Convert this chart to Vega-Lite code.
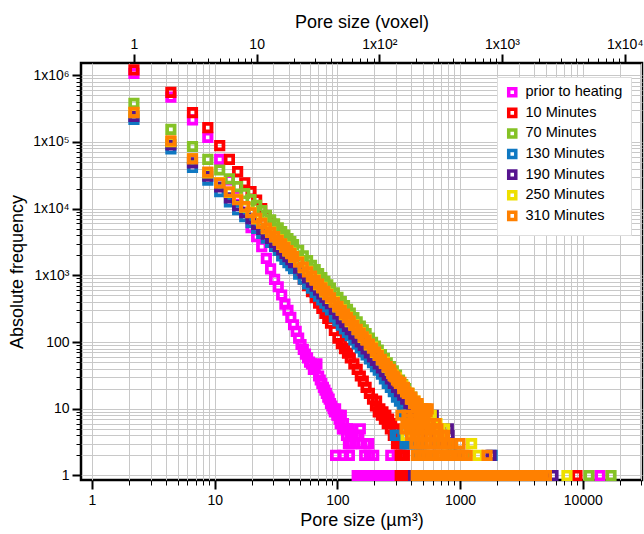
{
"$schema": "https://vega.github.io/schema/vega-lite/v6.json",
"width": 561,
"height": 417,
"autosize": {"type": "none"},
"padding": {"left": 81, "top": 63, "right": 2, "bottom": 54},
"background": "white",
"config": {
  "view": {"stroke": "#000000", "strokeWidth": 2.5},
  "font": "Liberation Sans",
  "axis": {"domain": false, "grid": true, "gridColor": "#c8c8c8", "gridWidth": 1, "tickColor": "#000000", "labelFont": "Liberation Sans", "labelFontSize": 14, "labelColor": "#000000", "titleFont": "Liberation Sans", "titleFontSize": 18, "titleFontWeight": "normal", "titleColor": "#000000", "labelOverlap": false, "labelBound": false, "labelFlush": false}
},
"layer": [
  {
    "data": {"values": [{"v": 1}]},
    "mark": {"type": "rule", "opacity": 0},
    "encoding": {
      "x": {"field": "v", "type": "quantitative",
        "scale": {"type": "log", "domain": [0.8135, 30380], "nice": false},
        "axis": {"orient": "bottom", "title": "Pore size (µm³)",
          "values": [1,2,3,4,5,6,7,8,9,10,20,30,40,50,60,70,80,90,100,200,300,400,500,600,700,800,900,1000,2000,3000,4000,5000,6000,7000,8000,9000,10000,20000,30000],
          "labelExpr": "indexof([1,10,100,1000,10000], datum.value) >= 0 ? datum.label : ''",
          "format": "d",
          "tickSize": {"condition": {"test": "indexof([1,10,100,1000,10000], datum.value) >= 0", "value": 9}, "value": 5},
          "tickWidth": {"condition": {"test": "indexof([1,10,100,1000,10000], datum.value) >= 0", "value": 2}, "value": 1},
          "labelPadding": 4, "titlePadding": 4}
      }
    }
  },
  {
    "data": {"values": [
{"s":"prior","n":1,"f":1070000},{"s":"prior","n":2,"f":470000},{"s":"prior","n":3,"f":214000},{"s":"prior","n":4,"f":117000},{"s":"prior","n":5,"f":55000},{"s":"prior","n":6,"f":27000},{"s":"prior","n":7,"f":15000},{"s":"prior","n":8,"f":8900},{"s":"prior","n":9,"f":5200},{"s":"prior","n":10,"f":3800},{"s":"prior","n":11,"f":2700},{"s":"prior","n":12,"f":1800},{"s":"prior","n":13,"f":1250},{"s":"prior","n":14,"f":870},{"s":"prior","n":15,"f":676},{"s":"prior","n":16,"f":508},{"s":"prior","n":17,"f":370},{"s":"prior","n":18,"f":300},{"s":"prior","n":19,"f":234},{"s":"prior","n":20,"f":182},{"s":"prior","n":21,"f":145},{"s":"prior","n":22,"f":115},{"s":"prior","n":23,"f":92},{"s":"prior","n":24,"f":78},{"s":"prior","n":25,"f":66},{"s":"prior","n":26,"f":58},{"s":"prior","n":27,"f":50},{"s":"prior","n":28,"f":47},{"s":"prior","n":29,"f":39},{"s":"prior","n":30,"f":42},{"s":"prior","n":31,"f":47},{"s":"prior","n":32,"f":31},{"s":"prior","n":33,"f":27},{"s":"prior","n":34,"f":24},{"s":"prior","n":35,"f":21},{"s":"prior","n":36,"f":19},{"s":"prior","n":37,"f":17},{"s":"prior","n":38,"f":15},{"s":"prior","n":39,"f":14},{"s":"prior","n":40,"f":12},{"s":"prior","n":41,"f":11},{"s":"prior","n":42,"f":10},{"s":"prior","n":43,"f":9},{"s":"prior","n":44,"f":10},{"s":"prior","n":45,"f":8},{"s":"prior","n":46,"f":8},{"s":"prior","n":47,"f":7},{"s":"prior","n":48,"f":6},{"s":"prior","n":49,"f":8},{"s":"prior","n":50,"f":5},{"s":"prior","n":51,"f":6},{"s":"prior","n":52,"f":5},{"s":"prior","n":54,"f":4},{"s":"prior","n":55,"f":5},{"s":"prior","n":56,"f":3},{"s":"prior","n":57,"f":5},{"s":"prior","n":58,"f":4},{"s":"prior","n":59,"f":3},{"s":"prior","n":61,"f":4},{"s":"prior","n":63,"f":3},{"s":"prior","n":65,"f":4},{"s":"prior","n":68,"f":4},{"s":"prior","n":70,"f":5},{"s":"prior","n":72,"f":3},{"s":"prior","n":78,"f":3},{"s":"prior","n":82,"f":3},{"s":"prior","n":44,"f":2},{"s":"prior","n":51,"f":2},{"s":"prior","n":57,"f":2},{"s":"prior","n":76,"f":2},{"s":"prior","n":83,"f":2},{"s":"prior","n":90,"f":2},{"s":"prior","n":124,"f":2},{"s":"prior","n":140,"f":2},{"s":"prior","n":66,"f":1},{"s":"prior","n":70,"f":1},{"s":"prior","n":74,"f":1},{"s":"prior","n":78,"f":1},{"s":"prior","n":82,"f":1},{"s":"prior","n":86,"f":1},{"s":"prior","n":91,"f":1},{"s":"prior","n":96,"f":1},{"s":"prior","n":101,"f":1},{"s":"prior","n":106,"f":1},{"s":"prior","n":112,"f":1},{"s":"prior","n":118,"f":1},{"s":"prior","n":124,"f":1},{"s":"prior","n":131,"f":1},{"s":"prior","n":138,"f":1},{"s":"prior","n":145,"f":1},{"s":"prior","n":152,"f":1},{"s":"prior","n":6280,"f":1},
{"s":"10","n":1,"f":1202000},{"s":"10","n":2,"f":556000},{"s":"10","n":3,"f":275000},{"s":"10","n":4,"f":164000},{"s":"10","n":5,"f":88000},{"s":"10","n":6,"f":55000},{"s":"10","n":7,"f":35900},{"s":"10","n":8,"f":24500},{"s":"10","n":9,"f":18000},{"s":"10","n":10,"f":13500},{"s":"10","n":11,"f":10000},{"s":"10","n":12,"f":7760},{"s":"10","n":13,"f":6030},{"s":"10","n":14,"f":4790},{"s":"10","n":15,"f":3890},{"s":"10","n":16,"f":3160},{"s":"10","n":17,"f":2630},{"s":"10","n":18,"f":2190},{"s":"10","n":19,"f":1860},{"s":"10","n":20,"f":1585},{"s":"10","n":22,"f":1175},{"s":"10","n":24,"f":880},{"s":"10","n":26,"f":700},{"s":"10","n":28,"f":570},{"s":"10","n":30,"f":465},{"s":"10","n":32,"f":385},{"s":"10","n":34,"f":320},{"s":"10","n":36,"f":268},{"s":"10","n":38,"f":226},{"s":"10","n":40,"f":192},{"s":"10","n":43,"f":150},{"s":"10","n":46,"f":115},{"s":"10","n":49,"f":95},{"s":"10","n":52,"f":80},{"s":"10","n":55,"f":68},{"s":"10","n":58,"f":58},{"s":"10","n":62,"f":47},{"s":"10","n":66,"f":39},{"s":"10","n":70,"f":31},{"s":"10","n":74,"f":26},{"s":"10","n":78,"f":21},{"s":"10","n":83,"f":17},{"s":"10","n":88,"f":14},{"s":"10","n":93,"f":11},{"s":"10","n":95,"f":13},{"s":"10","n":98,"f":9},{"s":"10","n":101,"f":10},{"s":"10","n":104,"f":8},{"s":"10","n":107,"f":9},{"s":"10","n":110,"f":7},{"s":"10","n":113,"f":8},{"s":"10","n":116,"f":6},{"s":"10","n":119,"f":7},{"s":"10","n":123,"f":5},{"s":"10","n":126,"f":6},{"s":"10","n":130,"f":4},{"s":"10","n":134,"f":5},{"s":"10","n":138,"f":3},{"s":"10","n":141,"f":4},{"s":"10","n":145,"f":3},{"s":"10","n":148,"f":2},{"s":"10","n":152,"f":3},{"s":"10","n":156,"f":2},{"s":"10","n":160,"f":2},{"s":"10","n":148,"f":1},{"s":"10","n":153,"f":1},{"s":"10","n":158,"f":1},{"s":"10","n":163,"f":1},{"s":"10","n":4083,"f":1},
{"s":"70","n":1,"f":380200},{"s":"70","n":2,"f":154600},{"s":"70","n":3,"f":85600},{"s":"70","n":4,"f":54700},{"s":"70","n":5,"f":38040},{"s":"70","n":6,"f":27960},{"s":"70","n":7,"f":21390},{"s":"70","n":8,"f":16880},{"s":"70","n":9,"f":13630},{"s":"70","n":10,"f":11220},{"s":"70","n":11,"f":9385},{"s":"70","n":12,"f":7955},{"s":"70","n":13,"f":6817},{"s":"70","n":14,"f":5902},{"s":"70","n":15,"f":5153},{"s":"70","n":16,"f":4533},{"s":"70","n":17,"f":4014},{"s":"70","n":18,"f":3575},{"s":"70","n":19,"f":3203},{"s":"70","n":20,"f":2883},{"s":"70","n":22,"f":2365},{"s":"70","n":24,"f":1970},{"s":"70","n":26,"f":1663},{"s":"70","n":28,"f":1418},{"s":"70","n":30,"f":1221},{"s":"70","n":32,"f":1060},{"s":"70","n":34,"f":928},{"s":"70","n":36,"f":817},{"s":"70","n":38,"f":724},{"s":"70","n":40,"f":645},{"s":"70","n":43,"f":547},{"s":"70","n":46,"f":469},{"s":"70","n":49,"f":405},{"s":"70","n":52,"f":353},{"s":"70","n":55,"f":310},{"s":"70","n":58,"f":273},{"s":"70","n":62,"f":233},{"s":"70","n":66,"f":201},{"s":"70","n":70,"f":174},{"s":"70","n":74,"f":152},{"s":"70","n":78,"f":134},{"s":"70","n":83,"f":115},{"s":"70","n":88,"f":99},{"s":"70","n":93,"f":87},{"s":"70","n":98,"f":76},{"s":"70","n":104,"f":65},{"s":"70","n":110,"f":57},{"s":"70","n":116,"f":49},{"s":"70","n":123,"f":43},{"s":"70","n":130,"f":37},{"s":"70","n":138,"f":32},{"s":"70","n":146,"f":27},{"s":"70","n":155,"f":23},{"s":"70","n":164,"f":20},{"s":"70","n":174,"f":17},{"s":"70","n":184,"f":15},{"s":"70","n":195,"f":12},{"s":"70","n":207,"f":11},{"s":"70","n":220,"f":9},{"s":"70","n":233,"f":8},{"s":"70","n":247,"f":6},{"s":"70","n":262,"f":6},{"s":"70","n":278,"f":5},{"s":"70","n":295,"f":4},{"s":"70","n":313,"f":3},{"s":"70","n":332,"f":4},{"s":"70","n":352,"f":3},{"s":"70","n":373,"f":2},{"s":"70","n":395,"f":3},{"s":"70","n":420,"f":2},{"s":"70","n":445,"f":2},{"s":"70","n":472,"f":1},{"s":"70","n":500,"f":2},{"s":"70","n":560,"f":1},{"s":"70","n":650,"f":1},{"s":"70","n":760,"f":1},{"s":"70","n":900,"f":1},{"s":"70","n":1100,"f":1},{"s":"70","n":1400,"f":1},{"s":"70","n":5111,"f":1},{"s":"70","n":7729,"f":1},
{"s":"130","n":1,"f":218800},{"s":"130","n":2,"f":79060},{"s":"130","n":3,"f":41450},{"s":"130","n":4,"f":26730},{"s":"130","n":5,"f":17990},{"s":"130","n":6,"f":12620},{"s":"130","n":7,"f":9636},{"s":"130","n":8,"f":7603},{"s":"130","n":9,"f":6157},{"s":"130","n":10,"f":5082},{"s":"130","n":11,"f":4264},{"s":"130","n":12,"f":3626},{"s":"130","n":13,"f":3120},{"s":"130","n":14,"f":2711},{"s":"130","n":15,"f":2376},{"s":"130","n":16,"f":1959},{"s":"130","n":17,"f":1741},{"s":"130","n":18,"f":1558},{"s":"130","n":19,"f":1401},{"s":"130","n":20,"f":1266},{"s":"130","n":22,"f":1047},{"s":"130","n":24,"f":880},{"s":"130","n":26,"f":748},{"s":"130","n":28,"f":643},{"s":"130","n":30,"f":558},{"s":"130","n":32,"f":488},{"s":"130","n":34,"f":430},{"s":"130","n":36,"f":382},{"s":"130","n":38,"f":340},{"s":"130","n":40,"f":305},{"s":"130","n":43,"f":239},{"s":"130","n":46,"f":207},{"s":"130","n":49,"f":180},{"s":"130","n":52,"f":158},{"s":"130","n":55,"f":140},{"s":"130","n":58,"f":125},{"s":"130","n":62,"f":108},{"s":"130","n":66,"f":94},{"s":"130","n":70,"f":82},{"s":"130","n":74,"f":72},{"s":"130","n":78,"f":64},{"s":"130","n":83,"f":56},{"s":"130","n":88,"f":49},{"s":"130","n":93,"f":43},{"s":"130","n":98,"f":38},{"s":"130","n":104,"f":33},{"s":"130","n":110,"f":28},{"s":"130","n":116,"f":24},{"s":"130","n":123,"f":21},{"s":"130","n":130,"f":18},{"s":"130","n":138,"f":15},{"s":"130","n":146,"f":13},{"s":"130","n":155,"f":11},{"s":"130","n":160,"f":9},{"s":"130","n":164,"f":8},{"s":"130","n":169,"f":6},{"s":"130","n":174,"f":7},{"s":"130","n":179,"f":4},{"s":"130","n":184,"f":5},{"s":"130","n":190,"f":3},{"s":"130","n":195,"f":4},{"s":"130","n":201,"f":3},{"s":"130","n":207,"f":2},{"s":"130","n":213,"f":3},{"s":"130","n":220,"f":2},{"s":"130","n":230,"f":2},{"s":"130","n":245,"f":1},{"s":"130","n":260,"f":2},{"s":"130","n":280,"f":1},{"s":"130","n":300,"f":1},{"s":"130","n":830,"f":2},{"s":"130","n":135,"f":4},{"s":"130","n":142,"f":4},{"s":"130","n":162,"f":3},{"s":"130","n":170,"f":3},{"s":"130","n":176,"f":3},
{"s":"190","n":1,"f":242700},{"s":"190","n":2,"f":90780},{"s":"190","n":3,"f":48700},{"s":"190","n":4,"f":30690},{"s":"190","n":5,"f":21130},{"s":"190","n":6,"f":14490},{"s":"190","n":7,"f":11070},{"s":"190","n":8,"f":8730},{"s":"190","n":9,"f":7070},{"s":"190","n":10,"f":5834},{"s":"190","n":11,"f":4895},{"s":"190","n":12,"f":4164},{"s":"190","n":13,"f":3583},{"s":"190","n":14,"f":3113},{"s":"190","n":15,"f":2729},{"s":"190","n":16,"f":2410},{"s":"190","n":17,"f":2142},{"s":"190","n":18,"f":1917},{"s":"190","n":19,"f":1723},{"s":"190","n":20,"f":1558},{"s":"190","n":22,"f":1289},{"s":"190","n":24,"f":1082},{"s":"190","n":26,"f":920},{"s":"190","n":28,"f":791},{"s":"190","n":30,"f":687},{"s":"190","n":32,"f":601},{"s":"190","n":34,"f":529},{"s":"190","n":36,"f":469},{"s":"190","n":38,"f":419},{"s":"190","n":40,"f":376},{"s":"190","n":43,"f":310},{"s":"190","n":46,"f":265},{"s":"190","n":49,"f":222},{"s":"190","n":52,"f":195},{"s":"190","n":55,"f":172},{"s":"190","n":58,"f":153},{"s":"190","n":62,"f":132},{"s":"190","n":66,"f":115},{"s":"190","n":70,"f":101},{"s":"190","n":74,"f":89},{"s":"190","n":78,"f":79},{"s":"190","n":83,"f":69},{"s":"190","n":88,"f":60},{"s":"190","n":93,"f":53},{"s":"190","n":98,"f":47},{"s":"190","n":104,"f":41},{"s":"190","n":110,"f":36},{"s":"190","n":116,"f":32},{"s":"190","n":123,"f":28},{"s":"190","n":130,"f":24},{"s":"190","n":138,"f":21},{"s":"190","n":146,"f":18},{"s":"190","n":155,"f":16},{"s":"190","n":164,"f":14},{"s":"190","n":174,"f":12},{"s":"190","n":184,"f":10},{"s":"190","n":190,"f":9},{"s":"190","n":195,"f":8},{"s":"190","n":201,"f":7},{"s":"190","n":207,"f":9},{"s":"190","n":213,"f":6},{"s":"190","n":220,"f":7},{"s":"190","n":226,"f":5},{"s":"190","n":233,"f":6},{"s":"190","n":240,"f":5},{"s":"190","n":250,"f":4},{"s":"190","n":275,"f":8},{"s":"190","n":300,"f":3},{"s":"190","n":365,"f":5},{"s":"190","n":370,"f":4},{"s":"190","n":385,"f":3},{"s":"190","n":450,"f":2},{"s":"190","n":600,"f":1},{"s":"190","n":812,"f":2},{"s":"190","n":190,"f":1},{"s":"190","n":2602,"f":1},
{"s":"250","n":1,"f":275000},{"s":"250","n":2,"f":101000},{"s":"250","n":3,"f":56500},{"s":"250","n":4,"f":34500},{"s":"250","n":5,"f":24600},{"s":"250","n":6,"f":17500},{"s":"250","n":7,"f":13800},{"s":"250","n":8,"f":10500},{"s":"250","n":9,"f":8800},{"s":"250","n":10,"f":7050},{"s":"250","n":11,"f":6100},{"s":"250","n":12,"f":5030},{"s":"250","n":13,"f":4460},{"s":"250","n":14,"f":3760},{"s":"250","n":15,"f":3400},{"s":"250","n":16,"f":2910},{"s":"250","n":17,"f":2670},{"s":"250","n":18,"f":2320},{"s":"250","n":19,"f":2150},{"s":"250","n":20,"f":1880},{"s":"250","n":22,"f":1610},{"s":"250","n":24,"f":1305},{"s":"250","n":26,"f":1150},{"s":"250","n":28,"f":955},{"s":"250","n":30,"f":860},{"s":"250","n":32,"f":725},{"s":"250","n":34,"f":662},{"s":"250","n":36,"f":567},{"s":"250","n":38,"f":524},{"s":"250","n":40,"f":453},{"s":"250","n":43,"f":403},{"s":"250","n":46,"f":337},{"s":"250","n":49,"f":305},{"s":"250","n":52,"f":258},{"s":"250","n":55,"f":237},{"s":"250","n":58,"f":203},{"s":"250","n":62,"f":182},{"s":"250","n":66,"f":153},{"s":"250","n":70,"f":139},{"s":"250","n":74,"f":118},{"s":"250","n":78,"f":110},{"s":"250","n":83,"f":91},{"s":"250","n":88,"f":84},{"s":"250","n":93,"f":70},{"s":"250","n":98,"f":65},{"s":"250","n":104,"f":54},{"s":"250","n":110,"f":50},{"s":"250","n":116,"f":42},{"s":"250","n":123,"f":38},{"s":"250","n":130,"f":32},{"s":"250","n":138,"f":29},{"s":"250","n":146,"f":24},{"s":"250","n":155,"f":22},{"s":"250","n":164,"f":18},{"s":"250","n":174,"f":17},{"s":"250","n":184,"f":14},{"s":"250","n":195,"f":13},{"s":"250","n":207,"f":11},{"s":"250","n":220,"f":10},{"s":"250","n":165,"f":4},{"s":"250","n":233,"f":9},{"s":"250","n":247,"f":8},{"s":"250","n":265,"f":8},{"s":"250","n":278,"f":6},{"s":"250","n":295,"f":6},{"s":"250","n":313,"f":5},{"s":"250","n":340,"f":5},{"s":"250","n":320,"f":4},{"s":"250","n":565,"f":3},{"s":"250","n":637,"f":2},{"s":"250","n":800,"f":1},{"s":"250","n":1000,"f":1},{"s":"250","n":1300,"f":1},{"s":"250","n":3382,"f":1},
{"s":"310","n":1,"f":278600},{"s":"310","n":2,"f":104200},{"s":"310","n":3,"f":55900},{"s":"310","n":4,"f":35240},{"s":"310","n":5,"f":24270},{"s":"310","n":6,"f":17820},{"s":"310","n":7,"f":13610},{"s":"310","n":8,"f":10740},{"s":"310","n":9,"f":8700},{"s":"310","n":10,"f":7180},{"s":"310","n":11,"f":6020},{"s":"310","n":12,"f":5120},{"s":"310","n":13,"f":4410},{"s":"310","n":14,"f":3830},{"s":"310","n":15,"f":3360},{"s":"310","n":16,"f":2965},{"s":"310","n":17,"f":2636},{"s":"310","n":18,"f":2358},{"s":"310","n":19,"f":2121},{"s":"310","n":20,"f":1917},{"s":"310","n":22,"f":1586},{"s":"310","n":24,"f":1331},{"s":"310","n":26,"f":1132},{"s":"310","n":28,"f":973},{"s":"310","n":30,"f":845},{"s":"310","n":32,"f":739},{"s":"310","n":34,"f":651},{"s":"310","n":36,"f":578},{"s":"310","n":38,"f":515},{"s":"310","n":40,"f":462},{"s":"310","n":43,"f":396},{"s":"310","n":46,"f":343},{"s":"310","n":49,"f":299},{"s":"310","n":52,"f":263},{"s":"310","n":55,"f":232},{"s":"310","n":58,"f":207},{"s":"310","n":62,"f":178},{"s":"310","n":66,"f":155},{"s":"310","n":70,"f":136},{"s":"310","n":74,"f":120},{"s":"310","n":78,"f":107},{"s":"310","n":83,"f":93},{"s":"310","n":88,"f":81},{"s":"310","n":93,"f":71},{"s":"310","n":98,"f":63},{"s":"310","n":104,"f":55},{"s":"310","n":110,"f":48},{"s":"310","n":116,"f":43},{"s":"310","n":123,"f":39},{"s":"310","n":126,"f":34},{"s":"310","n":130,"f":31},{"s":"310","n":134,"f":30},{"s":"310","n":138,"f":27},{"s":"310","n":142,"f":26},{"s":"310","n":146,"f":24},{"s":"310","n":150,"f":25},{"s":"310","n":155,"f":20},{"s":"310","n":160,"f":21},{"s":"310","n":164,"f":18},{"s":"310","n":169,"f":17},{"s":"310","n":174,"f":17},{"s":"310","n":179,"f":14},{"s":"310","n":184,"f":15},{"s":"310","n":190,"f":12},{"s":"310","n":195,"f":13},{"s":"310","n":201,"f":11},{"s":"310","n":207,"f":12},{"s":"310","n":213,"f":10},{"s":"310","n":220,"f":9},
{"s":"310","n":226,"f":10},{"s":"310","n":240,"f":10},{"s":"310","n":250,"f":10},{"s":"310","n":233,"f":9},{"s":"310","n":245,"f":9},
{"s":"310","n":150,"f":8},{"s":"310","n":168,"f":8},{"s":"310","n":188,"f":8},{"s":"310","n":210,"f":8},{"s":"310","n":230,"f":8},
{"s":"310","n":170,"f":7},{"s":"310","n":190,"f":7},{"s":"310","n":212,"f":7},{"s":"310","n":236,"f":7},
{"s":"310","n":165,"f":6},{"s":"310","n":185,"f":6},{"s":"310","n":207,"f":6},{"s":"310","n":232,"f":6},{"s":"310","n":260,"f":6},{"s":"310","n":290,"f":6},
{"s":"310","n":162,"f":5},{"s":"310","n":175,"f":5},{"s":"310","n":190,"f":5},{"s":"310","n":206,"f":5},{"s":"310","n":224,"f":5},{"s":"310","n":243,"f":5},{"s":"310","n":264,"f":5},{"s":"310","n":287,"f":5},{"s":"310","n":300,"f":5},
{"s":"310","n":180,"f":4},{"s":"310","n":195,"f":4},{"s":"310","n":210,"f":4},{"s":"310","n":226,"f":4},{"s":"310","n":243,"f":4},{"s":"310","n":262,"f":4},{"s":"310","n":282,"f":4},{"s":"310","n":303,"f":4},{"s":"310","n":326,"f":4},{"s":"310","n":340,"f":4},
{"s":"310","n":195,"f":3},{"s":"310","n":210,"f":3},{"s":"310","n":226,"f":3},{"s":"310","n":243,"f":3},{"s":"310","n":262,"f":3},{"s":"310","n":282,"f":3},{"s":"310","n":303,"f":3},{"s":"310","n":326,"f":3},{"s":"310","n":350,"f":3},{"s":"310","n":372,"f":3},{"s":"310","n":455,"f":3},
{"s":"310","n":200,"f":2},{"s":"310","n":214,"f":2},{"s":"310","n":229,"f":2},{"s":"310","n":245,"f":2},{"s":"310","n":262,"f":2},{"s":"310","n":280,"f":2},{"s":"310","n":300,"f":2},{"s":"310","n":321,"f":2},{"s":"310","n":343,"f":2},{"s":"310","n":367,"f":2},{"s":"310","n":393,"f":2},{"s":"310","n":420,"f":2},{"s":"310","n":450,"f":2},{"s":"310","n":482,"f":2},{"s":"310","n":520,"f":2},{"s":"310","n":755,"f":2},
{"s":"310","n":200,"f":1},{"s":"310","n":212,"f":1},{"s":"310","n":225,"f":1},{"s":"310","n":238,"f":1},{"s":"310","n":252,"f":1},{"s":"310","n":267,"f":1},{"s":"310","n":283,"f":1},{"s":"310","n":300,"f":1},{"s":"310","n":318,"f":1},{"s":"310","n":337,"f":1},{"s":"310","n":357,"f":1},{"s":"310","n":378,"f":1},{"s":"310","n":400,"f":1},{"s":"310","n":424,"f":1},{"s":"310","n":449,"f":1},{"s":"310","n":476,"f":1},{"s":"310","n":505,"f":1},{"s":"310","n":535,"f":1},{"s":"310","n":570,"f":1},{"s":"310","n":610,"f":1},{"s":"310","n":650,"f":1},{"s":"310","n":690,"f":1},{"s":"310","n":735,"f":1},{"s":"310","n":785,"f":1},{"s":"310","n":835,"f":1},{"s":"310","n":890,"f":1},{"s":"310","n":950,"f":1},{"s":"310","n":1010,"f":1},{"s":"310","n":1080,"f":1},{"s":"310","n":1150,"f":1},{"s":"310","n":1225,"f":1},{"s":"310","n":1305,"f":1},{"s":"310","n":1390,"f":1},{"s":"310","n":1480,"f":1},{"s":"310","n":1580,"f":1},{"s":"310","n":1680,"f":1},{"s":"310","n":1790,"f":1},{"s":"310","n":1910,"f":1},{"s":"310","n":2030,"f":1},{"s":"310","n":2160,"f":1},{"s":"310","n":2300,"f":1}
    ]},
    "mark": {"type": "point", "shape": "square", "filled": false, "size": 56, "strokeWidth": 3.7, "opacity": 1},
    "encoding": {
      "x": {"field": "n", "type": "quantitative",
        "scale": {"type": "log", "domain": [0.3703, 13828], "nice": false},
        "axis": {"orient": "top", "title": "Pore size (voxel)", "grid": false,
          "values": [1,2,3,4,5,6,7,8,9,10,20,30,40,50,60,70,80,90,100,200,300,400,500,600,700,800,900,1000,2000,3000,4000,5000,6000,7000,8000,9000,10000],
          "labelExpr": "datum.value == 1 ? '1' : datum.value == 10 ? '10' : datum.value == 100 ? '1x10²' : datum.value == 1000 ? '1x10³' : datum.value == 10000 ? '1x10⁴' : ''",
          "tickSize": {"condition": {"test": "indexof([1,10,100,1000,10000], datum.value) >= 0", "value": 9}, "value": 5},
          "tickWidth": {"condition": {"test": "indexof([1,10,100,1000,10000], datum.value) >= 0", "value": 2}, "value": 1},
          "labelPadding": 3, "titlePadding": 6}
      },
      "y": {"field": "f", "type": "quantitative",
        "scale": {"type": "log", "domain": [0.856, 1528000], "nice": false},
        "axis": {"title": "Absolute frequency",
          "values": [1,2,3,4,5,6,7,8,9,10,20,30,40,50,60,70,80,90,100,200,300,400,500,600,700,800,900,1000,2000,3000,4000,5000,6000,7000,8000,9000,10000,20000,30000,40000,50000,60000,70000,80000,90000,100000,200000,300000,400000,500000,600000,700000,800000,900000,1000000],
          "labelExpr": "datum.value == 1 ? '1' : datum.value == 10 ? '10' : datum.value == 100 ? '100' : datum.value == 1000 ? '1x10³' : datum.value == 10000 ? '1x10⁴' : datum.value == 100000 ? '1x10⁵' : datum.value == 1000000 ? '1x10⁶' : ''",
          "tickSize": {"condition": {"test": "indexof([1,10,100,1000,10000,100000,1000000], datum.value) >= 0", "value": 9}, "value": 5},
          "tickWidth": {"condition": {"test": "indexof([1,10,100,1000,10000,100000,1000000], datum.value) >= 0", "value": 2}, "value": 1},
          "labelPadding": 3, "titlePadding": 6}
      },
      "color": {"field": "s", "type": "nominal",
        "scale": {"domain": ["prior","10","70","130","190","250","310"], "range": ["#ff00ff","#ff0000","#85c226","#0f78c2","#56148f","#eee000","#ff8000"]},
        "legend": {"orient": "none", "legendX": 416, "legendY": 14, "title": null, "fillColor": "white", "strokeColor": "#dddddd", "padding": 8, "labelFont": "Liberation Sans", "labelFontSize": 14.5, "labelColor": "#000000", "symbolType": "square", "symbolSize": 50, "symbolStrokeWidth": 3.5, "symbolFillColor": "white", "symbolOpacity": 1, "rowPadding": -1.4, "labelOffset": 6,
          "labelExpr": "datum.label == 'prior' ? 'prior to heating' : datum.label + ' Minutes'"}
      }
    }
  }
],
"resolve": {"scale": {"x": "independent"}}
}
